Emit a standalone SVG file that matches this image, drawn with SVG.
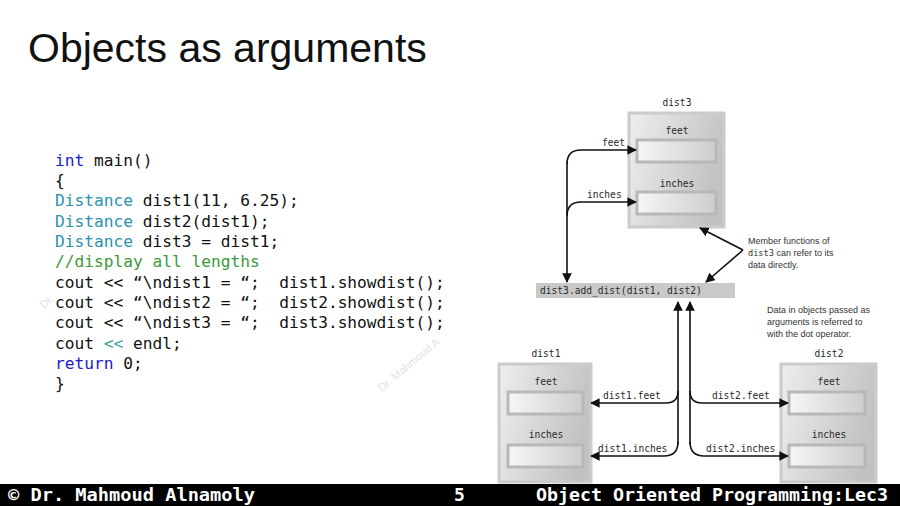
<svg xmlns="http://www.w3.org/2000/svg" width="900" height="506" viewBox="0 0 900 506">
<style>
.title{font-family:"Liberation Sans",Arial,sans-serif;font-size:41px;fill:#111}
.code{font-family:"DejaVu Sans Mono","Liberation Mono",monospace;font-size:16.2px;fill:#111}
.kw{fill:#1a1ad0}
.ty{fill:#2b91af}
.cm{fill:#3a9a3a}
.op{fill:#3aa0a0}
.mono{font-family:"DejaVu Sans Mono","Liberation Mono",monospace;font-size:9.6px;fill:#2a2a2a}
.note{font-family:"Liberation Sans",Arial,sans-serif;font-size:9px;fill:#333}
.notem{font-family:"DejaVu Sans Mono","Liberation Mono",monospace;font-size:8.6px}
.box{fill:url(#gBox);stroke:#cbcbcb;stroke-width:3}
.fld{fill:url(#gFld);stroke:#b8b8b8;stroke-width:3}
.con{fill:none;stroke:#111;stroke-width:1.6}
.foot{font-family:"DejaVu Sans Mono","Liberation Mono",monospace;font-size:18px;font-weight:bold;fill:#fff}
.wm{font-family:"Liberation Sans",Arial,sans-serif;font-size:11px;fill:#e2e2e2}
</style>
<defs>
<linearGradient id="gBox" x1="0" y1="0" x2="1" y2="0.3">
<stop offset="0" stop-color="#eeeeee"/>
<stop offset="1" stop-color="#c2c2c2"/>
</linearGradient>
<linearGradient id="gFld" x1="0" y1="0" x2="1" y2="0">
<stop offset="0" stop-color="#f6f6f6"/>
<stop offset="1" stop-color="#cdcdcd"/>
</linearGradient>
<marker id="ah" viewBox="0 0 10 10" refX="9" refY="5" markerWidth="6" markerHeight="6" orient="auto" markerUnits="strokeWidth">
<path d="M0,0 L10,5 L0,10 z" fill="#111"/>
</marker>
</defs>
<rect width="900" height="506" fill="#fff"/>
<text class="title" x="28" y="62">Objects as arguments</text>

<g id="watermark">
<text class="wm" x="0" y="0" transform="translate(44,309) rotate(-42)">Dr.</text>
<text class="wm" x="0" y="0" transform="translate(382,392) rotate(-40)">Dr. Mahmoud A</text>
</g>

<g id="code" class="code">
<text x="55" y="166"><tspan class="kw">int</tspan> main()</text>
<text x="55" y="186">{</text>
<text x="55" y="206"><tspan class="ty">Distance</tspan> dist1(11, 6.25);</text>
<text x="55" y="227"><tspan class="ty">Distance</tspan> dist2(dist1);</text>
<text x="55" y="247"><tspan class="ty">Distance</tspan> dist3 = dist1;</text>
<text x="55" y="267" class="cm">//display all lengths</text>
<text x="55" y="288">cout &lt;&lt; “\ndist1 = “; &#160;dist1.showdist();</text>
<text x="55" y="308">cout &lt;&lt; “\ndist2 = “; &#160;dist2.showdist();</text>
<text x="55" y="328">cout &lt;&lt; “\ndist3 = “; &#160;dist3.showdist();</text>
<text x="55" y="349">cout <tspan class="op">&lt;&lt;</tspan> endl;</text>
<text x="55" y="369"><tspan class="kw">return</tspan> 0;</text>
<text x="55" y="389">}</text>
</g>

<g id="dist3">
<text class="mono" x="677" y="106" text-anchor="middle">dist3</text>
<rect class="box" x="629" y="113" width="95" height="114"/>
<text class="mono" x="677" y="134" text-anchor="middle">feet</text>
<rect class="fld" x="637" y="140" width="79" height="22"/>
<text class="mono" x="677" y="187" text-anchor="middle">inches</text>
<rect class="fld" x="637" y="192" width="79" height="22"/>
</g>

<g id="call">
<rect x="536" y="283" width="199" height="15" fill="#c9c9c9"/>
<text class="mono" x="540" y="294">dist3.add_dist(dist1, dist2)</text>
</g>

<g id="dist1">
<text class="mono" x="546" y="357" text-anchor="middle">dist1</text>
<rect class="box" x="499" y="364" width="92" height="118"/>
<text class="mono" x="546" y="385" text-anchor="middle">feet</text>
<rect class="fld" x="508" y="392" width="75" height="22"/>
<text class="mono" x="546" y="438" text-anchor="middle">inches</text>
<rect class="fld" x="508" y="445" width="75" height="22"/>
</g>

<g id="dist2">
<text class="mono" x="829" y="357" text-anchor="middle">dist2</text>
<rect class="box" x="781" y="364" width="95" height="118"/>
<text class="mono" x="829" y="385" text-anchor="middle">feet</text>
<rect class="fld" x="789" y="392" width="76" height="22"/>
<text class="mono" x="829" y="438" text-anchor="middle">inches</text>
<rect class="fld" x="789" y="445" width="76" height="22"/>
</g>

<g id="note1" class="note">
<text x="748" y="244">Member functions of</text>
<text x="748" y="256"><tspan class="notem">dist3</tspan> can refer to its</text>
<text x="748" y="268">data directly.</text>
</g>
<g id="note2" class="note">
<text x="767" y="313">Data in objects passed as</text>
<text x="767" y="325">arguments is referred to</text>
<text x="767" y="337">with the dot operator.</text>
</g>

<g id="connectors">
<path class="con" d="M567,164 Q567,150 581,150 H636" marker-end="url(#ah)"/>
<path class="con" d="M567,162 V282" marker-end="url(#ah)"/>
<path class="con" d="M567,216 Q567,202 581,202 H636" marker-end="url(#ah)"/>
<path class="con" d="M743,250 L700,228" marker-end="url(#ah)"/>
<path class="con" d="M743,250 L706,282" marker-end="url(#ah)"/>
<path class="con" d="M678,444 V302" marker-end="url(#ah)"/>
<path class="con" d="M690,444 V302" marker-end="url(#ah)"/>
<path class="con" d="M678,391 Q678,403 666,403 H591" marker-end="url(#ah)"/>
<path class="con" d="M678,442 Q678,456 664,456 H591" marker-end="url(#ah)"/>
<path class="con" d="M690,391 Q690,403 702,403 H788" marker-end="url(#ah)"/>
<path class="con" d="M690,442 Q690,456 704,456 H788" marker-end="url(#ah)"/>
<text class="mono" x="602" y="146">feet</text>
<text class="mono" x="587" y="198">inches</text>
<text class="mono" x="603" y="399">dist1.feet</text>
<text class="mono" x="598" y="452">dist1.inches</text>
<text class="mono" x="712" y="399">dist2.feet</text>
<text class="mono" x="706" y="452">dist2.inches</text>
</g>

<g id="footer">
<rect x="0" y="484" width="900" height="22" fill="#000"/>
<text class="foot" x="8" y="501" textLength="247" lengthAdjust="spacingAndGlyphs">© Dr. Mahmoud Alnamoly</text>
<text class="foot" x="454" y="501">5</text>
<text class="foot" x="536" y="501" textLength="352" lengthAdjust="spacingAndGlyphs">Object Oriented Programming:Lec3</text>
</g>
</svg>
